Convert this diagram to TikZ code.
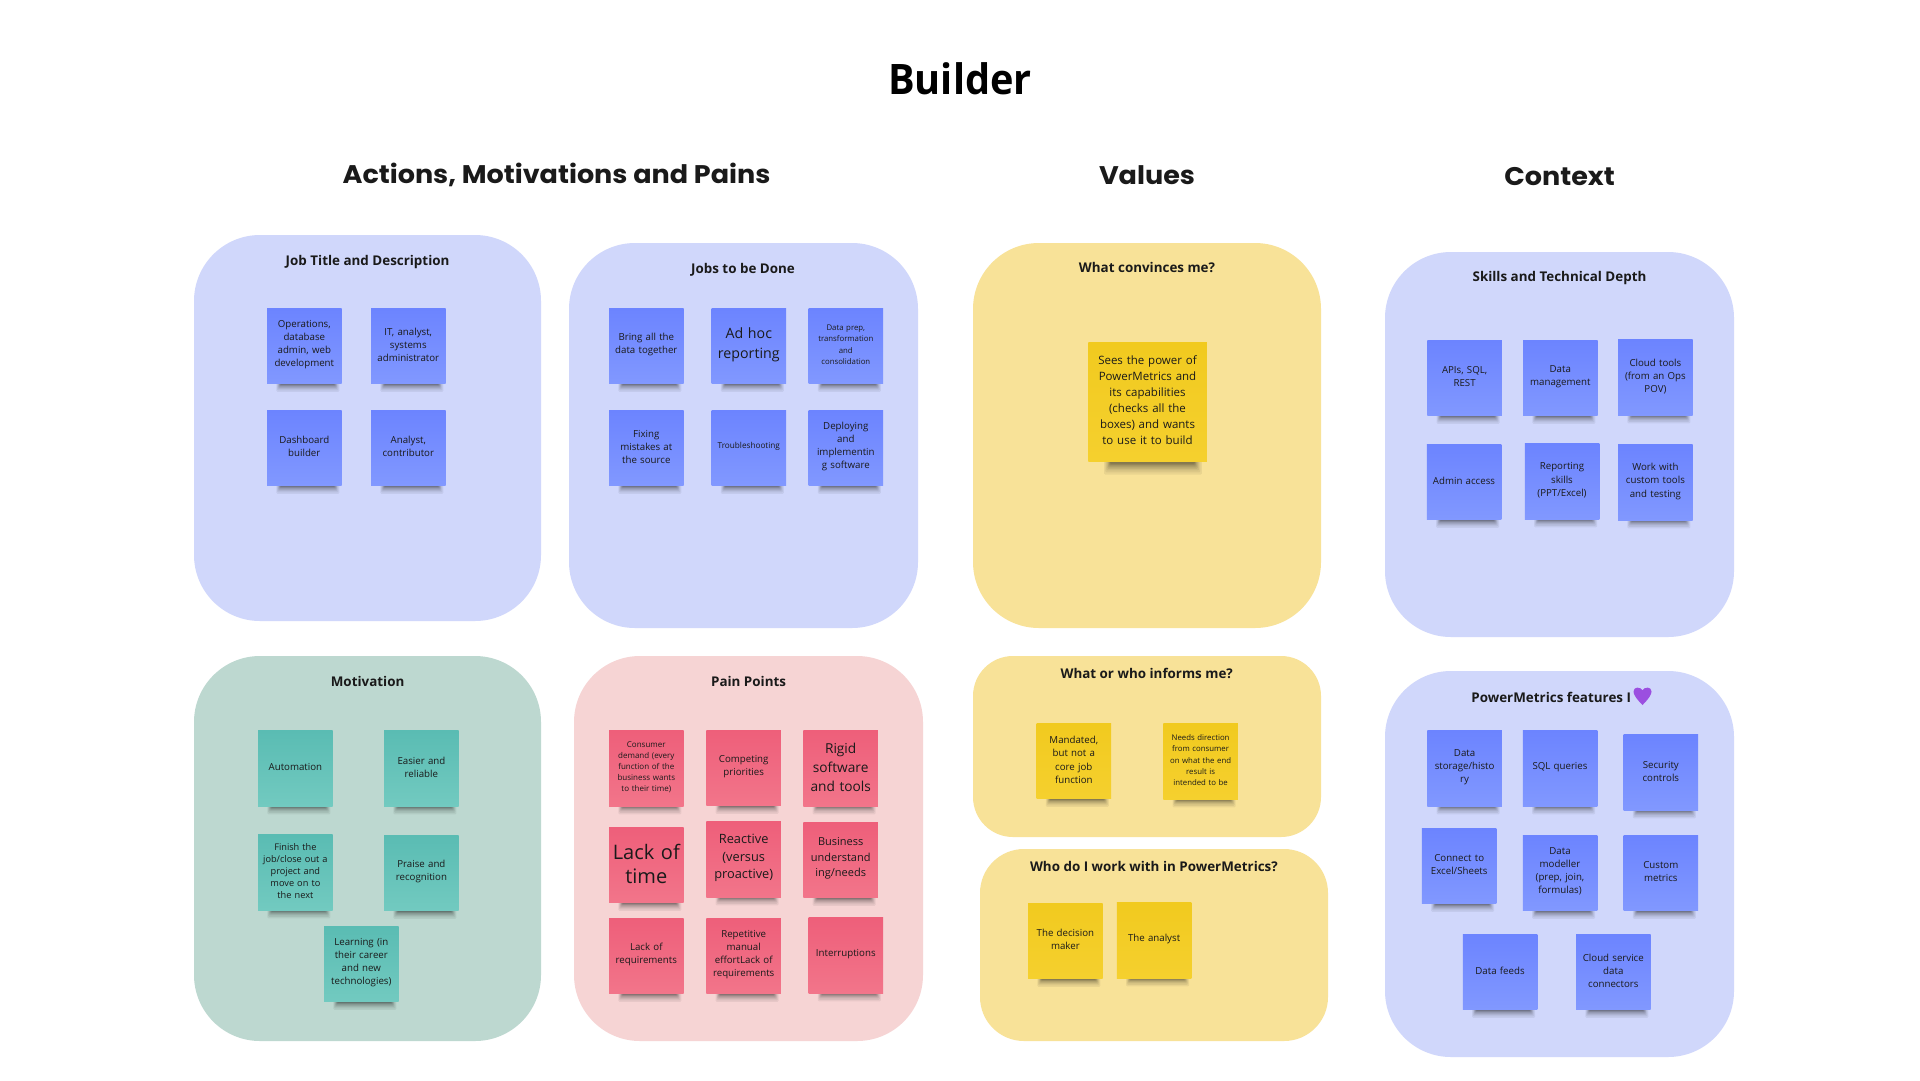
\documentclass[tikz,border=0pt]{standalone}
\usepackage{fontspec}
\setmainfont{Open Sans}
\newfontfamily\headfont{Poppins}
\newfontfamily\emojifont{Noto Emoji}
\definecolor{panelblue}{HTML}{D0D7FB}
\definecolor{panelgreen}{HTML}{BDD8D0}
\definecolor{panelpink}{HTML}{F6D4D4}
\definecolor{panelyellow}{HTML}{F8E298}
\definecolor{bluetop}{HTML}{6C84FF}
\definecolor{bluebot}{HTML}{8198FF}
\definecolor{tealtop}{HTML}{5ABCB3}
\definecolor{tealbot}{HTML}{72CAC0}
\definecolor{redtop}{HTML}{EE5F7A}
\definecolor{redbot}{HTML}{F2758A}
\definecolor{yeltop}{HTML}{F1CA1F}
\definecolor{yelbot}{HTML}{F5D02E}
\definecolor{inktext}{HTML}{1A1A1A}
\definecolor{heartcol}{HTML}{9B4FE0}
\tikzset{
  paneltitle/.style={font=\bfseries\fontsize{13.4}{16}\selectfont,text=inktext,inner sep=0pt},
  sectiontitle/.style={font=\headfont\bfseries\fontsize{25.5}{28}\selectfont,text=inktext,inner sep=0pt,xscale=1.06,transform shape},
  sticky/.style={minimum width=74.5pt,minimum height=75.5pt,inner sep=0pt},
  notetext/.style={inner sep=0pt,text width=72pt,align=center,text=inktext},
  bluenote/.style={sticky,top color=bluetop,bottom color=bluebot},
  tealnote/.style={sticky,top color=tealtop,bottom color=tealbot},
  rednote/.style={sticky,top color=redtop,bottom color=redbot},
  yelnote/.style={sticky,top color=yeltop,bottom color=yelbot},
  bignote/.style={minimum width=118.5pt,minimum height=119pt},
}
% x, y, half height, x scale, y scale
\newcommand\noteshadow[5]{%
  \begin{scope}[shift={(#1,#2+#3-2)},xscale=#4,yscale=#5]
    \foreach \h in {10,8.5,7.2,6.2,5.4,4.7,4.1,3.6,3.2,2.8}{
      \fill[black,opacity=.06,rounded corners=1pt] ({-28+(10-\h)*.55},0) rectangle ({35-(10-\h)*.65},\h);
    }
  \end{scope}
}
% name, x, y, colour style, font size, leading, text
\newcommand\stickynote[7]{%
  \noteshadow{#2}{#3}{37.75}{1}{1}
  \node[#4] (#1) at (#2,#3) {};
  \node[notetext,font=\fontsize{#5}{#6}\selectfont] (#1t) at (#2,#3-1.3) {#7};
}
\newcommand\panelbox[6]{% name, x0,y0,x1,y1,colour
  \fill[#6,rounded corners=66pt] (#2,#3) rectangle (#4,#5);
}
\begin{document}
\begin{tikzpicture}[x=1pt,y=-1pt]
\useasboundingbox (0,0) rectangle (1920,1080);
\fill[white] (0,0) rectangle (1920,1080);
% headings
\node[inner sep=0pt,font=\bfseries\fontsize{42}{46}\selectfont,text=black,xscale=.945,transform shape] (title) at (960,79) {Builder};
\node[sectiontitle] (secactions) at (556.5,175) {Actions, Motivations and Pains};
\node[sectiontitle] (secvalues) at (1147,175) {Values};
\node[sectiontitle] (seccontext) at (1559.5,176.5) {Context};
% panels
\panelbox{pjob}{194}{235}{541}{621}{panelblue}
\panelbox{pdone}{569}{243}{918}{628}{panelblue}
\panelbox{pmot}{194}{656}{541}{1041}{panelgreen}
\panelbox{ppain}{574}{656}{923}{1041}{panelpink}
\panelbox{pconv}{973}{243}{1321}{628}{panelyellow}
\fill[panelyellow,rounded corners=40pt] (973,656) rectangle (1321,837);
\fill[panelyellow,rounded corners=44pt] (980,849) rectangle (1328,1041);
\panelbox{pskill}{1385}{252}{1734}{637}{panelblue}
\panelbox{pfeat}{1385}{671}{1734}{1057}{panelblue}
% panel titles
\node[paneltitle] (tjob) at (367.6,262.5) {Job Title and Description};
\node[paneltitle] (tdone) at (743,269.5) {Jobs to be Done};
\node[paneltitle] (tmot) at (367.6,681) {Motivation};
\node[paneltitle] (tpain) at (748.6,681) {Pain Points};
\node[paneltitle] (tconv) at (1147,267.5) {What convinces me?};
\node[paneltitle] (tinf) at (1146.7,673) {What or who informs me?};
\node[paneltitle] (twho) at (1153.9,866) {Who do I work with in PowerMetrics?};
\node[paneltitle] (tskill) at (1559.5,278.5) {Skills and Technical Depth};
\node[paneltitle,anchor=west] (tfeat) at (1471.2,697.5) {PowerMetrics features I};
\fill[heartcol] (1642.5,705) .. controls (1635.5,698) and (1633.5,694) .. (1633.5,691.5) .. controls (1633.5,686.5) and (1640.5,686.5) .. (1642.5,690.5) .. controls (1644.5,686.5) and (1651.5,686.5) .. (1651.5,691.5) .. controls (1651.5,694) and (1649.5,698) .. (1642.5,705) -- cycle;
\node[inner sep=0pt,text=heartcol,font=\emojifont\fontsize{14}{16}\selectfont] (heart) at (1642.5,696) {💜};
% Job title
\stickynote{n1}{304.3}{346}{bluenote}{9.7}{13}{Operations,\\database\\admin, web\\development}
\stickynote{n2}{408.3}{346}{bluenote}{9.7}{13}{IT, analyst,\\systems\\administrator}
\stickynote{n3}{304.3}{448}{bluenote}{9.7}{13}{Dashboard\\builder}
\stickynote{n4}{408.3}{448}{bluenote}{9.7}{13}{Analyst,\\contributor}
% Jobs to be done
\stickynote{n5}{646.3}{346}{bluenote}{9.7}{13}{Bring all the\\data together}
\stickynote{n6}{748.8}{346}{bluenote}{14.2}{19.5}{Ad hoc\\reporting}
\stickynote{n7}{845.8}{346}{bluenote}{7.8}{11.3}{Data prep,\\transformation\\and\\consolidation}
\stickynote{n8}{646.3}{448}{bluenote}{9.7}{13}{Fixing\\mistakes at\\the source}
\stickynote{n9}{748.8}{448}{bluenote}{8.2}{11}{Troubleshooting}
\stickynote{n10}{845.8}{448}{bluenote}{9.7}{13}{Deploying\\and\\implementin\\g software}
% Motivation
\stickynote{n11}{295.4}{768.5}{tealnote}{9.7}{13}{Automation}
\stickynote{n12}{421.4}{768.5}{tealnote}{9.7}{13}{Easier and\\reliable}
\stickynote{n13}{295.4}{872.5}{tealnote}{9.2}{12}{Finish the\\job/close out a\\project and\\move on to\\the next}
\stickynote{n14}{421.4}{873}{tealnote}{9.7}{13}{Praise and\\recognition}
\stickynote{n15}{361.3}{964}{tealnote}{9.7}{13}{Learning (in\\their career\\and new\\technologies)}
% Pain points
\stickynote{n16}{646.3}{768.5}{rednote}{8}{11.2}{Consumer\\demand (every\\function of the\\business wants\\to their time)}
\stickynote{n17}{743.7}{768}{rednote}{9.7}{13}{Competing\\priorities}
\stickynote{n18}{840.7}{768.5}{rednote}{13.7}{19}{Rigid\\software\\and tools}
\stickynote{n19}{646.3}{865}{rednote}{20}{24.5}{Lack of\\time}
\stickynote{n20}{743.7}{859.5}{rednote}{12.8}{17.5}{Reactive\\(versus\\proactive)}
\stickynote{n21}{840.7}{860}{rednote}{11}{15.5}{Business\\understand\\ing/needs}
\stickynote{n22}{646.3}{956}{rednote}{9.7}{13}{Lack of\\requirements}
\stickynote{n23}{743.7}{956}{rednote}{9.7}{13}{Repetitive\\manual\\effortLack of\\requirements}
\stickynote{n24}{845.8}{955.5}{rednote}{9.7}{13}{Interruptions}
% Values
\noteshadow{1147.5}{402}{59.5}{1.55}{1.5}
\node[yelnote,bignote] (n25) at (1147.5,402) {};
\node[notetext,text width=112pt,font=\fontsize{11.5}{16}\selectfont] (n25t) at (1147.5,400) {Sees the power of\\PowerMetrics and\\its capabilities\\(checks all the\\boxes) and wants\\to use it to build};
\stickynote{n26}{1073.8}{761}{yelnote}{9.7}{13.3}{Mandated,\\but not a\\core job\\function}
\stickynote{n27}{1200.6}{761.5}{yelnote}{7.8}{11.3}{Needs direction\\from consumer\\on what the end\\result is\\intended to be}
\stickynote{n28}{1065.4}{941}{yelnote}{9.7}{13}{The decision\\maker}
\stickynote{n29}{1154.1}{940.5}{yelnote}{9.7}{13}{The analyst}
% Skills
\stickynote{n30}{1464.6}{378}{bluenote}{9.7}{13}{APIs, SQL,\\REST}
\stickynote{n31}{1560.3}{378}{bluenote}{9.7}{13}{Data\\management}
\stickynote{n32}{1655.4}{377.5}{bluenote}{9.7}{13}{Cloud tools\\(from an Ops\\POV)}
\stickynote{n33}{1464}{482}{bluenote}{9.7}{13}{Admin access}
\stickynote{n34}{1562}{481.5}{bluenote}{9.7}{13.3}{Reporting\\skills\\(PPT/Excel)}
\stickynote{n35}{1655.4}{482.5}{bluenote}{9.7}{13.3}{Work with\\custom tools\\and testing}
% Features
\stickynote{n36}{1464.6}{768.5}{bluenote}{9.7}{13.3}{Data\\storage/histo\\ry}
\stickynote{n37}{1560}{768.5}{bluenote}{9.7}{13}{SQL queries}
\stickynote{n38}{1660.8}{772.5}{bluenote}{9.7}{13}{Security\\controls}
\stickynote{n39}{1459.2}{866}{bluenote}{9.7}{13}{Connect to\\Excel/Sheets}
\stickynote{n40}{1560}{873}{bluenote}{9.7}{13}{Data\\modeller\\(prep, join,\\formulas)}
\stickynote{n41}{1660.8}{873}{bluenote}{9.7}{13}{Custom\\metrics}
\stickynote{n42}{1500}{972}{bluenote}{9.7}{13}{Data feeds}
\stickynote{n43}{1613.3}{972}{bluenote}{9.7}{13.3}{Cloud service\\data\\connectors}
\end{tikzpicture}
\end{document}
